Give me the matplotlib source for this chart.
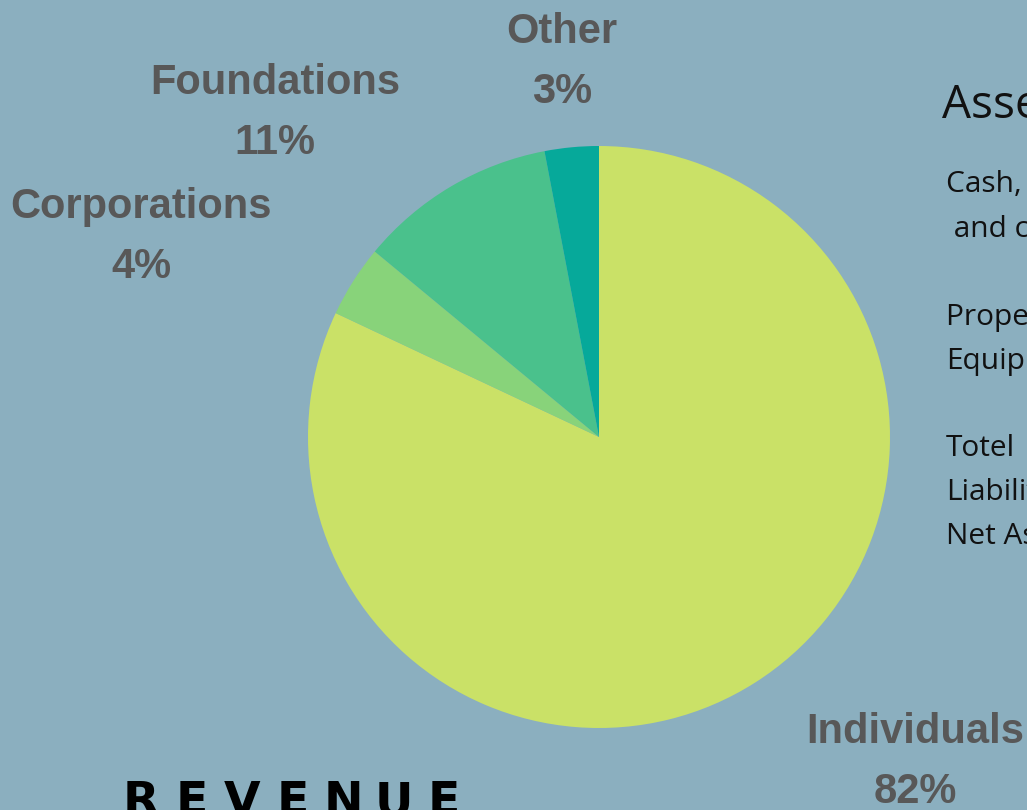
import matplotlib

matplotlib.use("Agg")

import matplotlib.pyplot as plt

W, H = 1027, 810
BG = "#8BAFBF"
LABEL_COLOR = "#585858"

# revenue shares, clockwise from 12 o'clock
categories = ["Individuals", "Corporations", "Foundations", "Other"]
shares = [82, 4, 11, 3]
colors = ["#CAE167", "#88D37A", "#4AC18C", "#06A99A"]

# label anchor points (image pixels, y down)
label_pos = {
    "Individuals": (915, 732),
    "Corporations": (141, 207),
    "Foundations": (275, 83),
    "Other": (562, 32),
}

assets_title = "Assets"
assets_lines = [
    ("Cash, Investments", 185),
    (" and cash equivalents", 229),
    ("Property and", 317),
    ("Equipment", 361),
    ("Totel", 449),
    ("Liabilities", 493),
    ("Net Assets", 537),
]

heading = "REVENUE"


def main() -> None:
    fig = plt.figure(figsize=(W / 100, H / 100), dpi=100)
    fig.patch.set_facecolor(BG)
    ax = fig.add_axes([0, 0, 1, 1])
    ax.set_facecolor(BG)
    ax.set_xlim(0, W)
    ax.set_ylim(0, H)
    ax.set_aspect("equal")
    ax.axis("off")

    ax.pie(
        shares,
        colors=colors,
        center=(599, H - 437),
        radius=291,
        startangle=90,
        counterclock=False,
        wedgeprops=dict(linewidth=0),
    )
    ax.set_xlim(0, W)
    ax.set_ylim(0, H)

    for name, pct in zip(categories, shares):
        x, y = label_pos[name]
        kw = dict(ha="center", va="center", color=LABEL_COLOR,
                  fontsize=30, fontweight="bold", family="Liberation Sans")
        ax.text(x, H - y, name, **kw)
        ax.text(x, H - y - 60, f"{pct}%", **kw)

    ax.text(942, H - 106, assets_title, ha="left", va="center",
            fontsize=33, color="#111111", family="Open Sans")
    for line, y in assets_lines:
        ax.text(946, H - y, line, ha="left", va="center",
                fontsize=21.5, color="#111111", family="Open Sans")

    # spaced-out heading, clipped at the bottom edge
    for i, ch in enumerate(heading):
        ax.text(141 + i * 50.5, H - 815, ch, ha="center", va="baseline",
                fontsize=34, fontweight="bold", color="black",
                family="DejaVu Sans")

    fig.savefig("out.png", dpi=100, facecolor=BG)


if __name__ == "__main__":
    main()
